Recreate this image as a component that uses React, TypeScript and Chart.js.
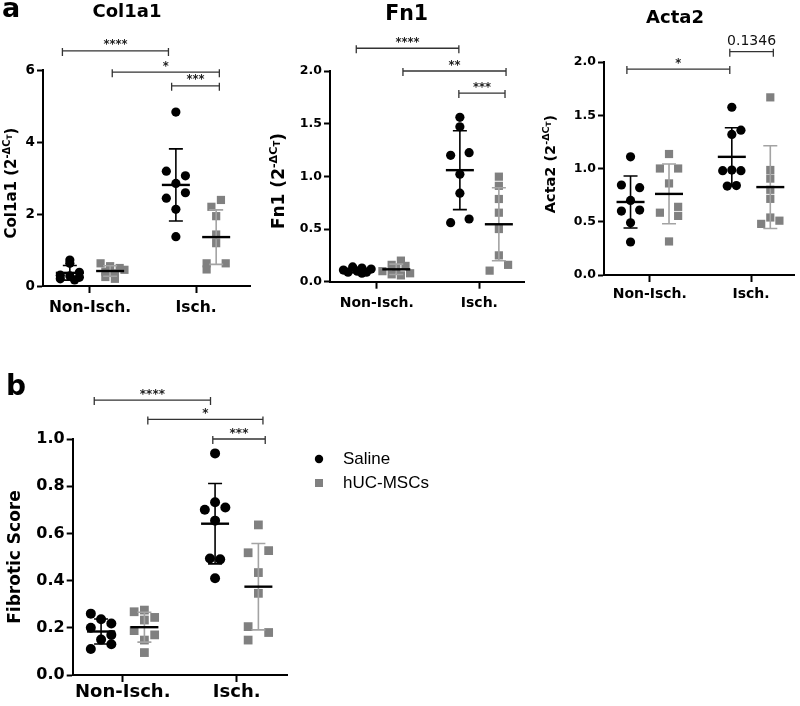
import React, { useEffect, useRef } from "react";
import { Chart, registerables } from "chart.js";
Chart.register(...registerables);

// ---------------- data ----------------
const groups = ["Non-Isch.", "Isch."];
const seriesNames = ["Saline", "hUC-MSCs"];

// Col1a1 (2^-ΔCT)
const col1a1SalineNonIsch = [0.72, 0.63, 0.38, 0.3, 0.28, 0.24, 0.2, 0.17];
const col1a1SalineNonIschCols = [0, 0, 1, -1, 0, 1, -1, 0.5];
const col1a1SalineIsch = [4.83, 3.19, 3.06, 2.85, 2.59, 2.44, 2.13, 1.37];
const col1a1SalineIschCols = [0, -1, 1, 0, 1, -1, 0, 0];
const col1a1HucNonIsch = [0.63, 0.55, 0.5, 0.45, 0.4, 0.35, 0.25, 0.2];
const col1a1HucNonIschCols = [-1, 0, 1, 1.5, -0.5, 0.5, -0.5, 0.5];
const col1a1HucIsch = [2.39, 2.2, 1.94, 1.43, 1.19, 0.63, 0.63, 0.46];
const col1a1HucIschCols = [0.5, -0.5, 0, 0, 0, -1, 1, -1];

// Fn1 (2^-ΔCT)
const fn1SalineNonIsch = [0.14, 0.13, 0.12, 0.11, 0.1, 0.09, 0.09, 0.08];
const fn1SalineNonIschCols = [-0.5, 0.5, 1.5, -1.5, 0, 1, -1, 0.5];
const fn1SalineIsch = [1.56, 1.47, 1.2, 1.225, 1.02, 0.84, 0.56, 0.595];
const fn1SalineIschCols = [0, 0, -1, 1, 0, 0, -1, 1];
const fn1HucNonIsch = [0.2, 0.16, 0.15, 0.12, 0.1, 0.08, 0.07, 0.06];
const fn1HucNonIschCols = [0.5, -0.5, 1, 0, -1.5, 1.5, -0.5, 0.5];
const fn1HucIsch = [0.997, 0.91, 0.785, 0.655, 0.5, 0.25, 0.105, 0.16];
const fn1HucIschCols = [0, 0, 0, 0, 0, 0, -1, 1];

// Acta2 (2^-ΔCT)
const acta2SalineNonIsch = [1.11, 0.845, 0.82, 0.7, 0.6, 0.61, 0.49, 0.31];
const acta2SalineNonIschCols = [0, -1, 1, 0, -1, 1, 0, 0];
const acta2SalineIsch = [1.575, 1.36, 1.32, 0.98, 0.985, 0.98, 0.835, 0.84];
const acta2SalineIschCols = [0, 1, 0, -1, 0, 1, -0.5, 0.5];
const acta2HucNonIsch = [1.136, 1.0, 1.0, 0.86, 0.64, 0.585, 0.555, 0.315];
const acta2HucNonIschCols = [0, -1, 1, 0, 1, -1, 1, 0];
const acta2HucIsch = [1.668, 0.986, 0.905, 0.8, 0.715, 0.54, 0.48, 0.51];
const acta2HucIschCols = [0, 0, 0, 0, 0, 0, -1, 1];

// Fibrotic score
const fibSalineNonIsch = [0.26, 0.236, 0.218, 0.2, 0.15, 0.17, 0.13, 0.11];
const fibSalineNonIschCols = [-1, 0, 1, -1, 0, 1, 1, -1];
const fibSalineIsch = [0.939, 0.732, 0.7, 0.71, 0.654, 0.494, 0.49, 0.41];
const fibSalineIschCols = [0, 0, -1, 1, 0, -0.5, 0.5, 0];
const fibHucNonIsch = [0.268, 0.275, 0.233, 0.244, 0.188, 0.17, 0.148, 0.095];
const fibHucNonIschCols = [-1, 0, 0, 1, -1, 1, 0, 0];
const fibHucIsch = [0.636, 0.518, 0.527, 0.434, 0.346, 0.205, 0.18, 0.148];
const fibHucIschCols = [0, -1, 1, 0, 0, -1, 1, -1];

// significance brackets (x in group units, y in axis units)
const col1a1Brackets = [
  { x1: -0.26, x2: 0.74, y: 6.53, label: "****" },
  { x1: 0.21, x2: 1.22, y: 5.94, label: "*" },
  { x1: 0.77, x2: 1.22, y: 5.56, label: "***" },
];
const fn1Brackets = [
  { x1: -0.2, x2: 0.8, y: 2.216, label: "****" },
  { x1: 0.255, x2: 1.26, y: 2.0, label: "**" },
  { x1: 0.8, x2: 1.25, y: 1.79, label: "***" },
];
const acta2Brackets = [
  { x1: -0.226, x2: 0.79, y: 1.934, label: "*" },
  { x1: 0.79, x2: 1.22, y: 2.097, label: "0.1346" },
];
const fibBrackets = [
  { x1: -0.25, x2: 0.77, y: 1.165, label: "****" },
  { x1: 0.22, x2: 1.23, y: 1.083, label: "*" },
  { x1: 0.79, x2: 1.25, y: 1.0, label: "***" },
];

// ---------------- styling / layout ----------------
const FONT = '"DejaVu Sans"';
const SERIES_OFFSET = 0.19;
const JITTER = 0.09;
const SALINE_COLOR = "#000000";
const HUC_COLOR = "#808080";
const HUC_BAR_COLOR = "#a3a3a3";

const panels: any[] = [
  {
    key: "col1a1",
    box: { left: 0, top: 0, width: 262, height: 330 },
    pad: { left: 4, right: 12, top: 0, bottom: 0 },
    yAxisW: 39, xAxisH: 44,
    title: { text: "Col1a1", size: 18, padTop: 1.2, padBottom: 47.2 },
    xMin: -0.443, xMax: 1.509, yMax: 6, yStep: 2, yDec: 0,
    xTickFont: 15.5, xTickPad: 6, yTickFont: 13.5,
    yLabel: { x: 12, y: 183, main: "Col1a1 (2", size: 15 },
    r: 4.6, rr: 5.8, star: 11.5,
    letter: { text: "a", x: 2, y: 17, size: 27 },
    series: [
      [col1a1SalineNonIsch, col1a1SalineNonIschCols, col1a1SalineIsch, col1a1SalineIschCols],
      [col1a1HucNonIsch, col1a1HucNonIschCols, col1a1HucIsch, col1a1HucIschCols],
    ],
    brackets: col1a1Brackets,
  },
  {
    key: "fn1",
    box: { left: 265, top: 0, width: 265, height: 330 },
    pad: { left: 23.4, right: 5, top: 0, bottom: 0 },
    yAxisW: 41.6, xAxisH: 48.3,
    title: { text: "Fn1", size: 20.5, padTop: 2.7, padBottom: 43.7 },
    xMin: -0.456, xMax: 1.437, yMax: 2, yStep: 0.5, yDec: 1,
    xTickFont: 14, xTickPad: 6, yTickFont: 12.5,
    yLabel: { x: 15, y: 181, main: "Fn1 (2", size: 17 },
    r: 4.6, rr: 5.8, star: 11.5,
    series: [
      [fn1SalineNonIsch, fn1SalineNonIschCols, fn1SalineIsch, fn1SalineIschCols],
      [fn1HucNonIsch, fn1HucNonIschCols, fn1HucIsch, fn1HucIschCols],
    ],
    brackets: fn1Brackets,
  },
  {
    key: "acta2",
    box: { left: 535, top: 0, width: 265, height: 330 },
    pad: { left: 17, right: 2, top: 0, bottom: 0 },
    yAxisW: 52, xAxisH: 55,
    title: { text: "Acta2", size: 18, padTop: 7.5, padBottom: 32.9 },
    xMin: -0.452, xMax: 1.426, yMax: 2, yStep: 0.5, yDec: 1,
    xTickFont: 14, xTickPad: 4, yTickFont: 12.5,
    yLabel: { x: 16.5, y: 164, main: "Acta2 (2", size: 14.5 },
    r: 4.6, rr: 5.8, star: 11.5,
    series: [
      [acta2SalineNonIsch, acta2SalineNonIschCols, acta2SalineIsch, acta2SalineIschCols],
      [acta2HucNonIsch, acta2HucNonIschCols, acta2HucIsch, acta2HucIschCols],
    ],
    brackets: acta2Brackets,
  },
  {
    key: "fib",
    box: { left: 0, top: 360, width: 560, height: 346 },
    pad: { left: 0, right: 273, top: 79, bottom: 0 },
    yAxisW: 72.7, xAxisH: 31,
    title: null,
    xMin: -0.439, xMax: 1.441, yMax: 1, yStep: 0.2, yDec: 1,
    xTickFont: 18, xTickPad: 0, yTickFont: 16,
    yLabel: { x: 15.7, y: 197, main: "Fibrotic Score", size: 17, plain: true },
    r: 5, rr: 6.2, star: 12,
    letter: { text: "b", x: 6, y: 35, size: 28 },
    legend: { x: 319, y: 99, gap: 24, textX: 343 },
    series: [
      [fibSalineNonIsch, fibSalineNonIschCols, fibSalineIsch, fibSalineIschCols],
      [fibHucNonIsch, fibHucNonIschCols, fibHucIsch, fibHucIschCols],
    ],
    brackets: fibBrackets,
  },
];

// ---------------- helpers ----------------
const mean = (a: number[]) => a.reduce((s, v) => s + v, 0) / a.length;
const sd = (a: number[]) => {
  const m = mean(a);
  return Math.sqrt(a.reduce((s, v) => s + (v - m) * (v - m), 0) / (a.length - 1));
};
const seriesOffset = (si: number) => (si === 0 ? -SERIES_OFFSET : SERIES_OFFSET);

function buildPoints(s: any[], si: number) {
  const [nv, nc, iv, ic] = s;
  const pts: { x: number; y: number }[] = [];
  nv.forEach((v: number, i: number) => pts.push({ x: 0 + seriesOffset(si) + nc[i] * JITTER, y: v }));
  iv.forEach((v: number, i: number) => pts.push({ x: 1 + seriesOffset(si) + ic[i] * JITTER, y: v }));
  return pts;
}

function makePlugin(p: any) {
  return {
    id: "decor_" + p.key,
    afterDatasetsDraw(chart: any) {
      const { ctx } = chart;
      const xs = chart.scales.x;
      const ys = chart.scales.y;
      ctx.save();
      p.series.forEach((s: any[], si: number) => {
        [s[0], s[2]].forEach((vals: number[], g: number) => {
          const m = mean(vals);
          const d = sd(vals);
          const cx = xs.getPixelForValue(g + seriesOffset(si));
          const yt = ys.getPixelForValue(m + d);
          const yb = ys.getPixelForValue(Math.max(m - d, 0));
          const ym = ys.getPixelForValue(m);
          ctx.strokeStyle = si === 0 ? SALINE_COLOR : HUC_BAR_COLOR;
          ctx.lineWidth = 1.6;
          ctx.beginPath();
          ctx.moveTo(cx, yt);
          ctx.lineTo(cx, yb);
          ctx.moveTo(cx - 7, yt);
          ctx.lineTo(cx + 7, yt);
          ctx.moveTo(cx - 7, yb);
          ctx.lineTo(cx + 7, yb);
          ctx.stroke();
          ctx.strokeStyle = "#000";
          ctx.lineWidth = 2.4;
          ctx.beginPath();
          ctx.moveTo(cx - 14, ym);
          ctx.lineTo(cx + 14, ym);
          ctx.stroke();
        });
      });
      ctx.restore();
    },
    afterDraw(chart: any) {
      const { ctx } = chart;
      const xs = chart.scales.x;
      const ys = chart.scales.y;
      ctx.save();
      // brackets
      ctx.strokeStyle = "#333";
      ctx.fillStyle = "#222";
      ctx.lineWidth = 1.3;
      p.brackets.forEach((b: any) => {
        const x1 = xs.getPixelForValue(b.x1);
        const x2 = xs.getPixelForValue(b.x2);
        const yy = ys.getPixelForValue(b.y);
        ctx.beginPath();
        ctx.moveTo(x1, yy - 3);
        ctx.lineTo(x1, yy + 5);
        ctx.moveTo(x1, yy);
        ctx.lineTo(x2, yy);
        ctx.moveTo(x2, yy - 3);
        ctx.lineTo(x2, yy + 5);
        ctx.stroke();
        const isStar = /^\*+$/.test(b.label);
        ctx.textAlign = "center";
        ctx.textBaseline = "alphabetic";
        if (isStar) {
          ctx.font = `bold ${p.star}px ${FONT}`;
          ctx.fillText(b.label, (x1 + x2) / 2, yy - 2.5);
        } else {
          ctx.font = `14px ${FONT}`;
          ctx.fillStyle = "#111";
          ctx.fillText(b.label, (x1 + x2) / 2, yy - 7);
        }
      });
      // y axis title
      const L = p.yLabel;
      ctx.fillStyle = "#000";
      ctx.translate(L.x, L.y);
      ctx.rotate(-Math.PI / 2);
      ctx.textAlign = "left";
      ctx.textBaseline = "middle";
      const parts = L.plain
        ? [{ t: L.main, s: L.size, dy: 0 }]
        : [
            { t: L.main, s: L.size, dy: 0 },
            { t: "-ΔC", s: L.size * 0.66, dy: -L.size * 0.33 },
            { t: "T", s: L.size * 0.5, dy: -L.size * 0.15 },
            { t: ")", s: L.size, dy: 0 },
          ];
      let total = 0;
      parts.forEach((pt) => {
        ctx.font = `bold ${pt.s}px ${FONT}`;
        total += ctx.measureText(pt.t).width;
      });
      let cx = -total / 2;
      parts.forEach((pt) => {
        ctx.font = `bold ${pt.s}px ${FONT}`;
        ctx.fillText(pt.t, cx, pt.dy);
        cx += ctx.measureText(pt.t).width;
      });
      ctx.setTransform(1, 0, 0, 1, 0, 0);
      // panel letter
      if (p.letter) {
        ctx.font = `bold ${p.letter.size}px ${FONT}`;
        ctx.textAlign = "left";
        ctx.textBaseline = "alphabetic";
        ctx.fillText(p.letter.text, p.letter.x, p.letter.y);
      }
      // legend
      if (p.legend) {
        const lg = p.legend;
        ctx.fillStyle = SALINE_COLOR;
        ctx.beginPath();
        ctx.arc(lg.x, lg.y, 4.2, 0, Math.PI * 2);
        ctx.fill();
        ctx.fillStyle = HUC_COLOR;
        ctx.fillRect(lg.x - 4, lg.y + lg.gap - 4, 8, 8);
        ctx.fillStyle = "#000";
        ctx.font = `17px "Liberation Sans"`;
        ctx.textAlign = "left";
        ctx.textBaseline = "middle";
        ctx.fillText(seriesNames[0], lg.textX, lg.y);
        ctx.fillText(seriesNames[1], lg.textX, lg.y + lg.gap);
      }
      ctx.restore();
    },
  };
}

function buildConfig(p: any): any {
  const axisCommon = {
    grid: {
      display: true,
      drawOnChartArea: false,
      drawTicks: true,
      tickLength: 6,
      tickWidth: 2,
      tickColor: "#000",
    },
    border: { display: true, color: "#000", width: 2 },
  };
  return {
    type: "scatter",
    data: {
      datasets: p.series.map((s: any[], si: number) => ({
        label: seriesNames[si],
        data: buildPoints(s, si),
        pointStyle: si === 0 ? "circle" : "rect",
        pointRadius: si === 0 ? p.r : p.rr,
        pointBackgroundColor: si === 0 ? SALINE_COLOR : HUC_COLOR,
        pointBorderWidth: 0,
        pointHoverRadius: si === 0 ? p.r : p.rr,
        clip: false,
      })),
    },
    options: {
      responsive: false,
      animation: false,
      devicePixelRatio: 1,
      events: [],
      layout: { padding: p.pad },
      plugins: {
        legend: { display: false },
        tooltip: { enabled: false },
        title: p.title
          ? {
              display: true,
              text: p.title.text,
              color: "#000",
              font: { family: FONT, size: p.title.size, weight: "bold", lineHeight: 1.2 },
              padding: { top: p.title.padTop, bottom: p.title.padBottom },
            }
          : { display: false },
      },
      scales: {
        x: {
          type: "linear",
          min: p.xMin,
          max: p.xMax,
          afterBuildTicks: (scale: any) => {
            scale.ticks = groups.map((_, i) => ({ value: i }));
          },
          afterFit: (scale: any) => {
            scale.height = p.xAxisH;
          },
          ticks: {
            autoSkip: false,
            maxRotation: 0,
            padding: p.xTickPad,
            color: "#000",
            font: { family: FONT, size: p.xTickFont, weight: "bold" },
            callback: (v: number) => groups[Math.round(v)] ?? "",
          },
          ...axisCommon,
          grid: { ...axisCommon.grid, tickLength: 7 },
        },
        y: {
          min: 0,
          max: p.yMax,
          afterFit: (scale: any) => {
            scale.width = p.yAxisW;
          },
          ticks: {
            stepSize: p.yStep,
            autoSkip: false,
            padding: 2,
            color: "#000",
            font: { family: FONT, size: p.yTickFont, weight: "bold" },
            callback: (v: number) => Number(v).toFixed(p.yDec),
          },
          ...axisCommon,
        },
      },
    },
    plugins: [makePlugin(p)],
  };
}

function Panel({ p }: { p: any }) {
  const ref = useRef<HTMLCanvasElement>(null);
  useEffect(() => {
    if (!ref.current) return;
    const chart = new Chart(ref.current, buildConfig(p));
    return () => chart.destroy();
  }, [p]);
  return (
    <canvas
      ref={ref}
      width={p.box.width}
      height={p.box.height}
      style={{
        position: "absolute",
        left: p.box.left,
        top: p.box.top,
        width: p.box.width,
        height: p.box.height,
      }}
    />
  );
}

export default function App() {
  return (
    <div
      style={{
        position: "absolute",
        left: 0,
        top: 0,
        width: 800,
        height: 706,
        background: "#fff",
        overflow: "hidden",
      }}
    >
      {panels.map((p) => (
        <Panel key={p.key} p={p} />
      ))}
    </div>
  );
}
